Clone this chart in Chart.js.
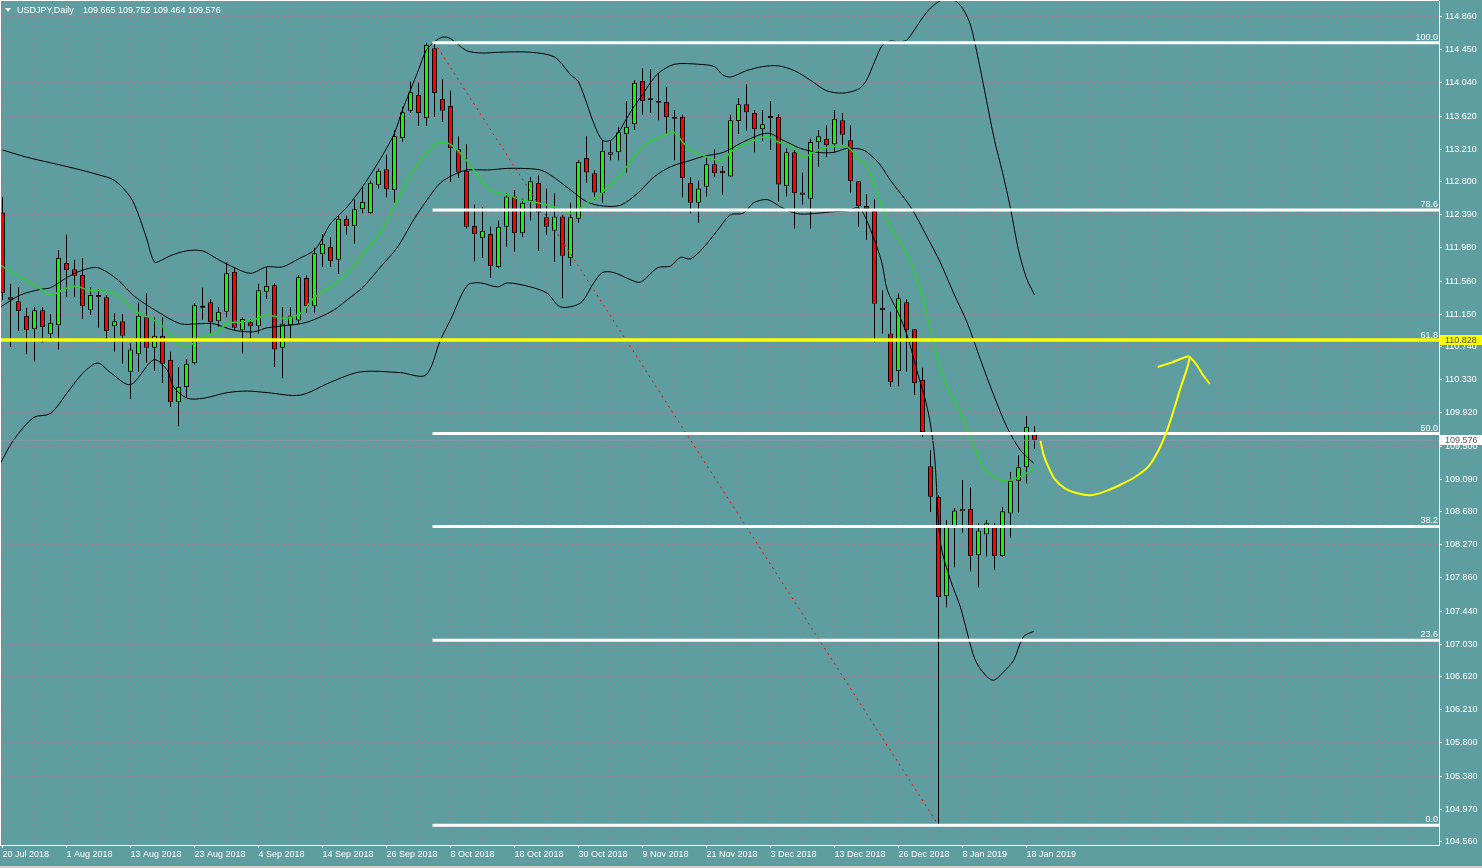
<!DOCTYPE html>
<html><head><meta charset="utf-8">
<script src="https://cdn.jsdelivr.net/npm/chart.js@4.4.1/dist/chart.umd.min.js"></script>
<style>
html,body{margin:0;padding:0;background:#5f9ea0;overflow:hidden}
#wrap{position:relative;width:1482px;height:868px}
canvas{display:block}
</style></head><body>
<div id="wrap"><canvas id="c" width="1482" height="868"></canvas></div>
<script>
// ---------- data ----------
const symbolTitle = 'USDJPY,Daily';
const headerValues = ['109.665', '109.752', '109.464', '109.576'];
const dateLabels = ['20 Jul 2018','1 Aug 2018','13 Aug 2018','23 Aug 2018','4 Sep 2018','14 Sep 2018','26 Sep 2018','8 Oct 2018','18 Oct 2018','30 Oct 2018','9 Nov 2018','21 Nov 2018','3 Dec 2018','13 Dec 2018','26 Dec 2018','8 Jan 2019','18 Jan 2019'];
const dateLabelIdx = [0,8,16,24,32,40,48,56,64,72,80,88,96,104,112,120,128];
const yTicks = [114.860,114.450,114.040,113.620,113.210,112.800,112.390,111.980,111.560,111.150,110.740,110.330,109.920,109.500,109.090,108.680,108.270,107.860,107.440,107.030,106.620,106.210,105.800,105.380,104.970,104.560];

const opens = [112.42,111.36,111.31,111.13,110.96,111.20,110.90,111.01,111.79,111.71,111.64,111.20,111.39,111.36,111.00,111.06,110.43,110.65,111.11,110.73,110.88,110.58,110.05,110.24,110.54,111.23,111.30,111.06,111.18,111.68,110.95,111.05,111.00,111.43,111.51,110.73,111.01,111.07,111.60,111.25,111.90,111.99,111.83,112.34,112.25,112.46,112.41,112.76,112.96,112.70,113.35,113.69,113.89,113.60,114.47,113.84,113.75,113.21,112.94,112.25,112.10,112.15,111.74,112.24,112.62,112.16,112.56,112.79,112.36,112.19,112.37,111.85,112.34,113.10,112.91,112.66,113.14,113.17,113.40,113.52,114.06,113.83,113.81,113.80,113.59,113.61,112.79,112.54,112.74,113.02,112.94,112.87,113.56,113.77,113.66,113.46,113.61,113.61,112.75,113.17,112.64,112.59,113.30,113.34,113.27,113.57,113.32,112.81,112.50,112.44,111.23,110.91,110.44,111.30,110.96,110.33,109.25,108.87,107.63,108.48,108.69,108.72,108.14,108.40,108.49,108.13,108.66,109.07,109.24,109.665];
const highs = [112.61,111.53,111.49,111.23,111.24,111.24,111.15,111.95,112.14,111.83,111.85,111.49,111.46,111.39,111.16,111.15,110.79,111.30,111.41,111.11,111.11,110.68,110.49,110.59,111.29,111.48,111.34,111.24,111.80,111.73,111.11,111.09,111.53,111.74,111.54,111.24,111.24,111.64,111.64,111.98,112.15,112.11,112.38,112.38,112.58,112.74,112.82,112.97,113.14,113.45,113.74,114.05,114.04,114.54,114.55,114.09,113.94,113.37,113.27,112.52,112.49,112.24,112.32,112.66,112.70,112.60,112.86,112.89,112.72,112.66,112.39,112.54,113.07,113.37,112.95,113.32,113.32,113.49,113.81,114.07,114.22,114.21,114.16,113.99,113.70,113.64,112.86,112.82,113.11,113.21,113.00,113.64,113.85,114.02,113.70,113.70,113.81,113.65,113.22,113.20,112.92,113.34,113.45,113.51,113.70,113.66,113.51,112.81,112.65,112.59,111.45,111.18,111.41,111.34,110.96,110.48,109.45,108.89,108.58,108.73,109.08,108.99,108.54,108.58,108.54,108.74,109.18,109.39,109.88,109.752];
const lows = [111.33,110.74,110.94,110.65,110.56,110.79,110.85,110.71,111.36,111.36,111.09,111.14,110.98,110.81,110.68,110.53,110.09,110.43,110.54,110.44,110.29,109.99,109.75,110.11,110.52,111.08,110.91,110.99,111.11,110.94,110.66,110.84,110.91,111.34,110.49,110.35,110.84,111.03,111.16,111.16,111.74,111.74,111.65,112.14,112.03,112.41,112.40,112.72,112.61,112.54,113.30,113.66,113.50,113.50,113.61,113.55,112.80,112.85,112.22,111.81,111.85,111.60,111.73,111.99,111.93,112.11,112.32,111.94,112.14,111.80,111.35,111.75,112.29,112.79,112.58,112.54,113.07,113.07,112.92,113.45,113.64,113.66,113.57,113.39,113.07,112.61,112.41,112.29,112.62,112.86,112.64,112.86,113.40,113.44,113.17,113.31,113.20,112.55,112.62,112.22,112.52,112.22,112.99,113.11,113.17,113.26,112.67,112.24,112.08,110.80,110.91,110.24,110.25,110.43,110.14,109.62,108.68,104.77,107.49,107.99,108.42,107.94,107.74,108.12,107.96,108.12,108.36,108.67,109.04,109.464];
const closes = [111.41,111.33,111.19,110.95,111.20,110.99,111.04,111.85,111.70,111.63,111.25,111.39,111.36,110.94,111.06,110.88,110.71,111.13,110.73,110.88,110.53,110.05,110.24,110.53,111.26,111.25,111.05,111.18,111.66,110.98,111.09,111.00,111.45,111.50,110.71,111.03,111.13,111.61,111.25,111.91,112.03,111.81,112.34,112.25,112.46,112.55,112.79,112.94,112.71,113.37,113.67,113.92,113.66,114.51,113.91,113.69,113.22,112.92,112.24,112.15,112.19,111.75,112.24,112.62,112.16,112.54,112.81,112.42,112.24,112.37,111.88,112.36,113.05,112.92,112.67,113.19,113.17,113.42,113.49,114.04,113.81,113.82,113.79,113.61,113.61,112.85,112.54,112.72,113.02,112.91,112.91,113.57,113.77,113.67,113.46,113.52,113.60,112.77,113.17,112.66,112.67,113.30,113.37,113.26,113.59,113.39,112.81,112.50,112.46,111.28,111.20,110.30,111.35,110.95,110.29,109.68,108.87,107.62,108.51,108.70,108.72,108.13,108.45,108.54,108.13,108.69,109.07,109.24,109.74,109.576];

// Bollinger upper / middle / lower and the green moving average (bar index, price)
const upperIdx = [0,3,6,9,12,14,16,17,18,19,20,21,23,25,27,29,31,33,35,37,39,40,41,43,45,47,48,49,50,51,52,53,54,55,56,58,60,62,66,69,71,72,74,75,76,77,78,79,80,81,82,84,87,89,90,91,93,95,97,99,101,103,105,107,108,109,110,111,112,113,114,115,116,117,118,119,120,121,122,123,124,125,126,127,128,129];
const upperVal = [113.20,113.11,113.04,112.97,112.89,112.82,112.61,112.39,112.10,111.80,111.83,111.88,111.94,111.94,111.83,111.73,111.66,111.74,111.74,111.84,111.95,112.10,112.28,112.48,112.74,113.05,113.22,113.41,113.70,113.95,114.20,114.45,114.55,114.61,114.59,114.44,114.41,114.42,114.42,114.36,114.14,114.05,113.51,113.32,113.32,113.42,113.59,113.75,113.89,114.04,114.16,114.27,114.27,114.24,114.14,114.11,114.19,114.24,114.25,114.19,114.07,113.94,113.91,113.96,114.07,114.30,114.51,114.56,114.55,114.57,114.70,114.85,114.97,115.05,115.10,115.07,114.97,114.76,114.32,113.82,113.32,112.92,112.47,111.95,111.60,111.39];
const midIdx = [-0.25,2.25,4.75,6,8.1,9.75,11.9,14.4,16.4,19.4,22.25,24.4,26.4,28.9,31.4,33.1,37.25,38.9,41.4,43.1,45.1,47.25,49.4,51.4,53.1,54.75,56.4,58.1,60.6,63.1,64.75,67.25,68.9,71,73.1,75.1,77.25,79.4,81.4,83.5,86,87.6,90.1,92.6,95.6,97.6,99.75,101.9,103.9,105.6,107.6,108.9,109.75,111,113.5,115.6,117.25,118.9,120.6,122.25,123.9,125.6,127.25,128.9];
const midVal = [111.24,111.39,111.46,111.48,111.61,111.69,111.73,111.58,111.38,111.18,111.03,111.03,111.03,110.95,110.93,110.98,111.03,111.08,111.20,111.33,111.49,111.74,111.99,112.33,112.58,112.79,112.89,112.95,112.95,112.97,112.97,112.95,112.86,112.70,112.55,112.50,112.51,112.66,112.86,112.99,113.07,113.12,113.17,113.30,113.41,113.32,113.22,113.17,113.17,113.22,113.20,113.10,113.01,112.82,112.49,112.11,111.79,111.41,111.04,110.58,110.14,109.73,109.45,109.29];
const lowerIdx = [-0.25,1.4,3.9,6,8.1,10.1,11.9,13.5,16,18.9,20.6,21.4,23.1,25.1,28.1,30.6,33.1,37.25,41,44.75,49.75,52.9,54.75,56,58.1,59.75,61.9,63.1,66,68.1,69.75,72.25,73.9,75,76.4,78.5,79.75,81.9,83.5,84.75,86,87.6,89.4,91,92.6,93.9,95.6,97.25,98.5,99.75,101.9,103.9,105.6,106.9,107.6,108.75,109.9,110.6,111.9,113.1,114.4,115.25,115.9,116.5,117.25,118.5,119.75,120.6,121.6,122.9,123.9,125.1,126.4,127.6,128.9];
const lowerVal = [109.29,109.58,109.86,109.91,110.17,110.42,110.54,110.42,110.27,110.58,110.45,110.24,110.10,110.10,110.17,110.19,110.17,110.14,110.30,110.43,110.42,110.39,110.83,111.08,111.51,111.54,111.49,111.54,111.49,111.41,111.24,111.29,111.54,111.67,111.67,111.58,111.55,111.73,111.75,111.86,111.84,111.98,112.20,112.39,112.41,112.54,112.58,112.49,112.43,112.40,112.41,112.43,112.44,112.48,112.41,112.14,111.80,111.45,111.18,110.88,110.41,110.12,109.83,109.39,108.29,107.83,107.49,107.17,106.83,106.64,106.58,106.68,106.83,107.12,107.19];
const maIdx = [-0.25,2.25,4.4,6,8.1,9.4,10.6,11.9,14.4,16.4,18.5,20.1,21.9,23.1,24.75,26.9,28.1,29.75,31.4,33.1,35.1,37.25,38.9,41,43.1,45.1,47.25,48.9,50.6,52.25,53.1,54.4,55.6,57.25,58.9,61,63.1,64.75,66.9,68.9,71,73.1,75.1,77.25,78.9,80.6,82.25,83.9,85.1,86,88.1,89.75,91.4,93.5,95.6,96.9,98.5,100.1,101.9,104.4,105.6,106.9,108.1,108.9,109.75,111,112.6,113.9,115.1,116,116.9,118.1,119.75,121,122.6,123.9,124.75,126,127.6,128.9];
const maVal = [111.76,111.61,111.49,111.39,111.48,111.50,111.45,111.45,111.39,111.20,111.10,110.99,110.79,110.74,110.86,110.93,111.04,111.05,111.08,111.14,111.10,111.16,111.35,111.49,111.66,111.91,112.17,112.49,112.82,113.07,113.17,113.29,113.29,113.16,112.95,112.70,112.64,112.58,112.54,112.49,112.41,112.54,112.68,112.89,113.11,113.29,113.36,113.42,113.29,113.20,113.11,113.07,113.20,113.30,113.37,113.30,113.26,113.11,113.20,113.25,113.24,113.11,112.99,112.79,112.54,112.24,111.99,111.70,111.33,110.95,110.58,110.24,109.92,109.62,109.24,109.12,109.08,109.08,109.14,109.23];

// Fibonacci retracement (drawn from the 4 Oct 2018 high to the 3 Jan 2019 low)
const fibLabels = ['0.0','23.6','38.2','50.0','61.8','78.6','100.0'];
const fibPrices = [104.77,107.08,108.50,109.66,110.81,112.45,114.54];
const fibStartIdx = 53.75;
const trendFrom = [54, 114.54];
const trendTo = [117, 104.77];
const levelLine = 110.828;   // yellow horizontal line
const bidPrice = 109.576;

// hand-drawn yellow forecast curve (bar index, price)
const curveIdx = [129.75,130.15,130.8,131.6,132.9,134.5,136,137.9,139.75,141.6,143.25,144.5,145.5,146.4,147.25,148,148.4];
const curveVal = [109.57,109.39,109.23,109.08,108.97,108.91,108.89,108.94,109.02,109.12,109.25,109.45,109.68,109.95,110.23,110.45,110.60];
const arrowIdx = [144.4,146.25,148.25,149.25,150,150.9];
const arrowVal = [110.49,110.55,110.62,110.52,110.40,110.28];

// ---------- chart ----------
const FONT_FAMILY = '"Liberation Sans", Arial, sans-serif';
const FONT = '9px ' + FONT_FAMILY;
const X_MIN = -0.3125, X_MAX = 179.5625;
const Y_MIN = 104.5225, Y_MAX = 115.0597;
const GRID = '#8b8798';

const pts = (xs, ys) => xs.map((v, i) => ({x: v, y: ys[i]}));
const idx = opens.map((_, i) => i);

const lineDs = (data, color, width, order, extra) => Object.assign({
  type: 'line', data, borderColor: color, borderWidth: width, pointRadius: 0,
  fill: false, tension: 0, order
}, extra || {});

const datasets = [
  { type: 'bar', data: idx.map(i => ({x: i, y: [lows[i], highs[i]]})),
    backgroundColor: '#000', borderWidth: 0, barThickness: 1, grouped: false,
    inflateAmount: 0, order: 30 },
  { type: 'bar', data: idx.map(i => ({x: i, y: [opens[i], closes[i]]})),
    backgroundColor: idx.map(i => closes[i] >= opens[i] ? '#00ff00' : '#ff0000'),
    borderColor: '#000', borderWidth: 1, borderSkipped: false, barThickness: 5,
    grouped: false, inflateAmount: 0, minBarLength: 2, order: 29 },
  lineDs(pts(upperIdx, upperVal), '#000', 1, 20, {tension: 0.3}),
  lineDs(pts(midIdx, midVal), '#000', 1, 20, {tension: 0.3}),
  lineDs(pts(lowerIdx, lowerVal), '#000', 1, 20, {tension: 0.3}),
  lineDs(pts(maIdx, maVal), '#32cd32', 1.5, 19, {tension: 0.3}),
  lineDs([{x: X_MIN, y: bidPrice}, {x: X_MAX, y: bidPrice}], '#9590a2', 1, 15),
  lineDs([{x: trendFrom[0], y: trendFrom[1]}, {x: trendTo[0], y: trendTo[1]}], '#ff0000', 1, 12, {borderDash: [2, 4]}),
];
fibPrices.forEach((p, k) => {
  if (fibLabels[k] === '61.8') return; // covered by the yellow level line
  datasets.push(lineDs([{x: fibStartIdx, y: p}, {x: X_MAX, y: p}], '#ffffff', 3, 10));
});
datasets.push(lineDs([{x: X_MIN, y: levelLine}, {x: X_MAX, y: levelLine}], '#ffff00', 3.5, 5));
datasets.push(lineDs(pts(curveIdx, curveVal), '#ffff00', 2, 4, {tension: 0.35}));
datasets.push(lineDs(pts(arrowIdx, arrowVal), '#ffff00', 2, 4, {tension: 0.2}));

const overlay = {
  id: 'overlay',
  afterDatasetsDraw(chart) {
    const {ctx, scales: {y}, chartArea} = chart;
    ctx.save();
    ctx.font = FONT;
    ctx.fillStyle = '#ffffff';
    ctx.textAlign = 'right';
    ctx.textBaseline = 'alphabetic';
    fibPrices.forEach((p, k) => {
      ctx.fillText(fibLabels[k], chartArea.right - 1, Math.round(y.getPixelForValue(p)) - 3);
    });
    ctx.restore();
  },
  afterDraw(chart) {
    const {ctx, scales: {y}, chartArea} = chart;
    ctx.save();
    // frame
    ctx.fillStyle = '#ffffff';
    ctx.fillRect(0, 0, chartArea.right, 1);
    ctx.fillRect(0, 0, 1, chartArea.bottom);
    // bottom strip
    ctx.fillStyle = '#d4d0c8';
    ctx.fillRect(0, 866, 1482, 2);
    // price boxes on the axis
    ctx.font = FONT;
    ctx.textBaseline = 'middle';
    ctx.textAlign = 'left';
    const box = (price, txt, bg, fg) => {
      const py = Math.round(y.getPixelForValue(price));
      ctx.fillStyle = bg;
      ctx.fillRect(chartArea.right + 1, py - 5, 1482 - chartArea.right - 1, 10);
      ctx.fillStyle = fg;
      ctx.fillText(txt, chartArea.right + 6, py + 0.5);
    };
    box(levelLine, levelLine.toFixed(3), '#ffff00', '#4a4a4a');
    box(bidPrice, bidPrice.toFixed(3), '#ffffff', '#5a5a5a');
    // header
    ctx.fillStyle = '#ffffff';
    ctx.beginPath();
    ctx.moveTo(5, 8); ctx.lineTo(11, 8); ctx.lineTo(8, 12); ctx.closePath(); ctx.fill();
    ctx.fillText(symbolTitle, 17, 11);
    ctx.fillText(headerValues.join(' '), 83, 11);
    ctx.restore();
  }
};

const chart = new Chart(document.getElementById('c'), {
  type: 'bar',
  data: { datasets },
  plugins: [overlay],
  options: {
    responsive: false, animation: false, devicePixelRatio: 1, events: [],
    layout: { padding: { top: 1, left: 0, right: 0, bottom: 0 } },
    plugins: { legend: { display: false }, tooltip: { enabled: false } },
    scales: {
      x: {
        type: 'linear', position: 'bottom', min: X_MIN, max: X_MAX, offset: false, bounds: 'data',
        grid: { offset: false, color: GRID, lineWidth: 1, tickLength: 3,
                tickColor: c => (c.tick && dateLabelIdx.includes(c.tick.value)) ? '#ffffff' : 'rgba(0,0,0,0)' },
        border: { display: true, color: '#ffffff', width: 1, dash: [3, 3] },
        afterBuildTicks: s => { const t = []; for (let v = 0; v <= 176; v += 4) t.push({value: v}); s.ticks = t; },
        afterFit: s => { s.height = 23; s.paddingLeft = 0; s.paddingRight = 0; },
        ticks: { autoSkip: false, maxRotation: 0, minRotation: 0, align: 'start', padding: 1,
                 color: '#ffffff', font: { family: FONT_FAMILY, size: 9 },
                 callback: v => { const k = dateLabelIdx.indexOf(v); return k >= 0 ? dateLabels[k] : ''; } }
      },
      y: {
        type: 'linear', position: 'right', min: Y_MIN, max: Y_MAX, bounds: 'data', beginAtZero: false,
        grid: { color: GRID, lineWidth: 1, tickLength: 3, tickColor: '#ffffff' },
        border: { display: true, color: '#ffffff', width: 1, dash: [3, 3] },
        afterBuildTicks: s => { s.ticks = yTicks.map(v => ({value: v})); },
        afterFit: s => { s.width = 43; s.paddingTop = 0; s.paddingBottom = 0; },
        ticks: { autoSkip: false, padding: 3, color: '#ffffff', font: { family: FONT_FAMILY, size: 9 },
                 callback: v => v.toFixed(3) }
      }
    }
  }
});
</script>
</body></html>
